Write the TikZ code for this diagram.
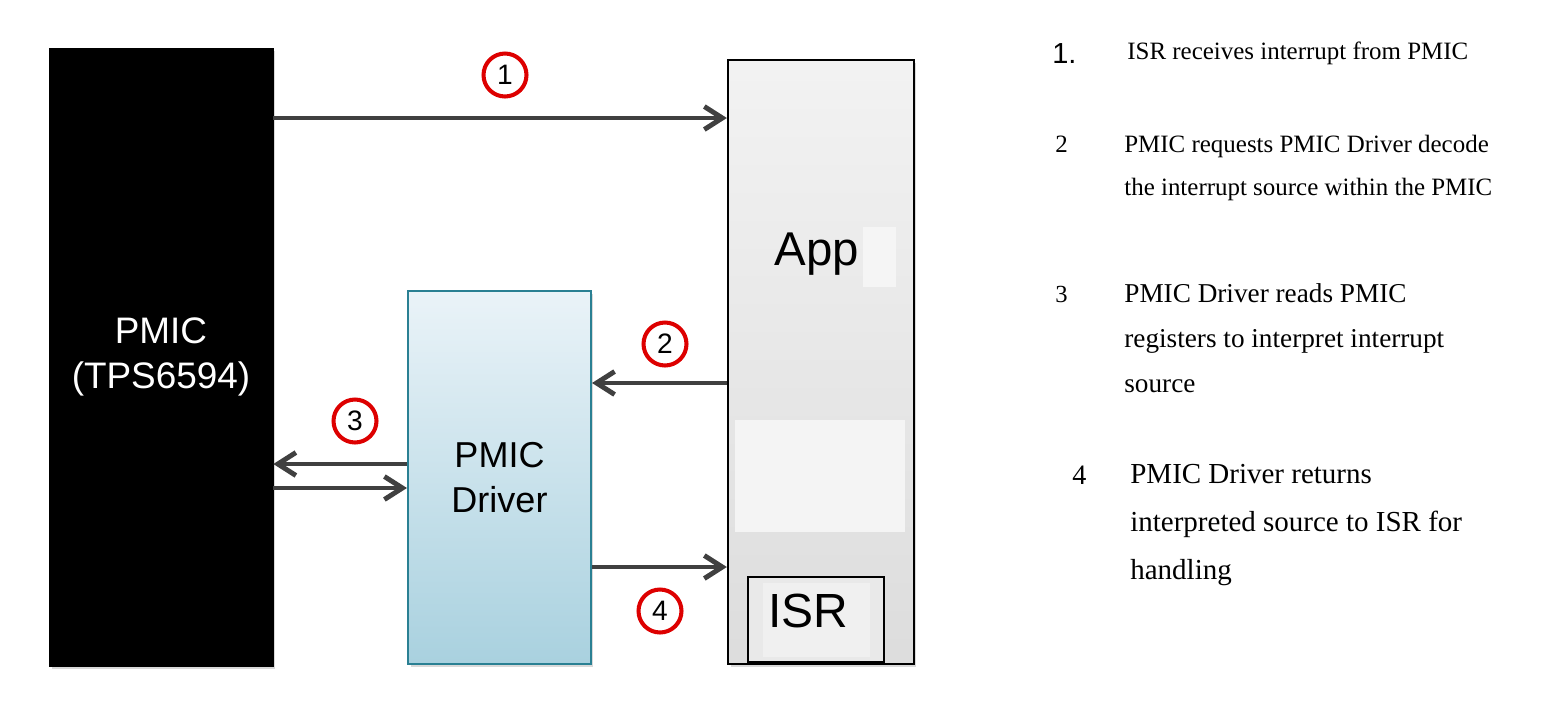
\documentclass[tikz,border=0pt]{standalone}
\usepackage{fontspec}
\setmainfont{Liberation Serif}
\setsansfont{Liberation Sans}
\usetikzlibrary{arrows.meta,shadows}
\definecolor{arrowGray}{HTML}{404040}
\definecolor{stepRed}{HTML}{DD0000}
\definecolor{driverEdge}{HTML}{2A8093}
\definecolor{driverTop}{HTML}{EAF3F8}
\definecolor{driverBottom}{HTML}{A9D1DF}
\tikzstyle{blockShadow}=[drop shadow={shadow xshift=0.5mm, shadow yshift=-0.6mm, opacity=0.3}]
\tikzstyle{stepCircle}=[shape = circle, minimum size = 0.86cm, inner sep = 0pt, draw = stepRed, line width = 2.3pt, fill = white, font = \sffamily\fontsize{16}{18}\selectfont]

\begin{document}
\begin{tikzpicture}[x = 0.02cm, y = -0.02cm]
\tikzstyle{pmicStyle}=[shape = rectangle, draw = black, fill = black, text = white, align = center, blockShadow, font = \sffamily\fontsize{21}{25.6}\selectfont]
\tikzstyle{driverStyle}=[shape = rectangle, draw = driverEdge, line width = 1.2pt, top color = driverTop, bottom color = driverBottom, align = center, blockShadow, font = \sffamily\fontsize{20.5}{25.6}\selectfont]
\tikzstyle{appStyle}=[shape = rectangle, draw = black, line width = 1.3pt, top color = gray!10, bottom color = gray!27, blockShadow]
\tikzstyle{isrStyle}=[shape = rectangle, draw = black, line width = 1.3pt, fill = gray!17]
\tikzstyle{flowArrow}=[draw = arrowGray, line width = 2.8pt, -{Straight Barb[length = 3.6mm, width = 4.6mm]}]
\tikzstyle{noteText}=[anchor = north west, inner sep = 0pt, align = left]
\useasboundingbox (0,0) rectangle (1553,718);
% blocks
\node[pmicStyle, minimum width = 4.48cm, minimum height = 12.36cm] (pmicBox) at (161,357) {PMIC\\(TPS6594)};
\node[driverStyle, minimum width = 3.66cm, minimum height = 7.46cm] (driverBox) at (499.5,477.5) {PMIC\\Driver};
\node[appStyle, minimum width = 3.72cm, minimum height = 12.08cm] (appBox) at (821,362) {};
\fill[gray!9] (735,420) rectangle (905,532);
\fill[gray!8] (863,227) rectangle (896,287);
\node[isrStyle, minimum width = 2.72cm, minimum height = 1.7cm] (isrBox) at (816,619.5) {};
\fill[gray!12] (763,583) rectangle (870,657);
\node[anchor = base, inner sep = 0pt, font = \sffamily\fontsize{27}{30}\selectfont] (appText) at (817,265) {App};
\node[anchor = base, inner sep = 0pt, font = \sffamily\fontsize{27.3}{30}\selectfont] (isrText) at (808,627) {ISR};
% connectors
\draw[flowArrow] (pmicBox.east |- 0,118) -- (appBox.west |- 0,118);
\draw[flowArrow] (appBox.west |- 0,383) -- (driverBox.east |- 0,383);
\draw[flowArrow] (driverBox.west |- 0,464) -- (pmicBox.east |- 0,464);
\draw[flowArrow] (pmicBox.east |- 0,488) -- (driverBox.west |- 0,488);
\draw[flowArrow] (driverBox.east |- 0,567) -- (appBox.west |- 0,567);
% step markers
\node[stepCircle] (c1) at (505,75) {1};
\node[stepCircle] (c2) at (665,344) {2};
\node[stepCircle] (c3) at (355,421) {3};
\node[stepCircle] (c4) at (660,611) {4};
% notes
\node[anchor = base west, inner sep = 0pt, font = \sffamily\fontsize{16.5}{18}\selectfont] (n1) at (1052,63) {1.};
\node[anchor = base west, inner sep = 0pt, font = \fontsize{14.2}{24.5}\selectfont] (t1) at (1127,59) {ISR receives interrupt from PMIC};
\node[anchor = base west, inner sep = 0pt, font = \fontsize{14.2}{16}\selectfont] (n2) at (1055,152) {2};
\node[noteText, font = \fontsize{14.2}{24.5}\selectfont] (t2) at (1124,135) {PMIC requests PMIC Driver decode\\the interrupt source within the PMIC};
\node[anchor = base west, inner sep = 0pt, font = \fontsize{14}{16}\selectfont] (n3) at (1055,302) {3};
\node[noteText, font = \fontsize{15.5}{25.6}\selectfont] (t3) at (1124,283) {PMIC Driver reads PMIC\\registers to interpret interrupt\\source};
\node[anchor = base west, inner sep = 0pt, font = \fontsize{16}{18}\selectfont] (n4) at (1072,484) {4};
\node[noteText, font = \fontsize{16.5}{27.3}\selectfont] (t4) at (1130,464) {PMIC Driver returns\\interpreted source to ISR for\\handling};
\end{tikzpicture}
\end{document}
